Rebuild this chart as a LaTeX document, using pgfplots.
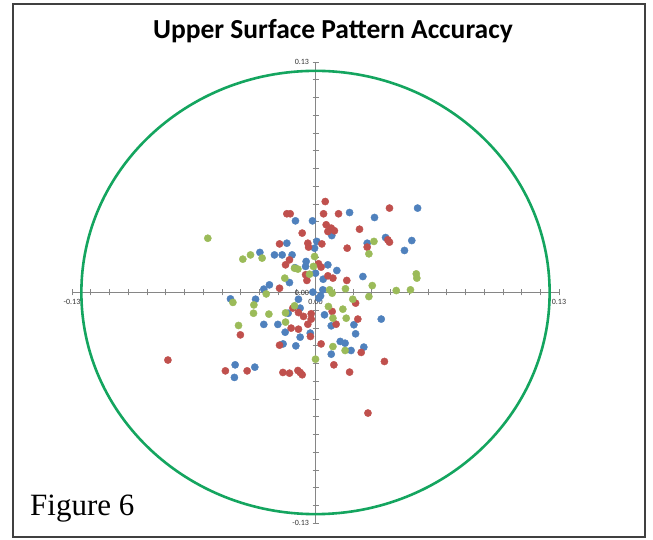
\documentclass[border=0pt]{standalone}
\usepackage{pgfplots}
\pgfplotsset{compat=1.18}
\usepackage{fontspec}
\setmainfont{Carlito}
\newfontfamily\figfont{Liberation Serif}
\definecolor{sblue}{HTML}{4F81BD}
\definecolor{sred}{HTML}{C0504D}
\definecolor{sgreen}{HTML}{9BBB59}
\definecolor{ringgreen}{RGB}{20,165,95}
\definecolor{axgray}{RGB}{134,134,134}
\begin{document}
\begin{tikzpicture}
\useasboundingbox (0,0) rectangle (653pt,540pt);
\fill[white] (0,0) rectangle (653pt,540pt);
\draw[black!75, line width=1.5pt] (13pt,3pt) rectangle (645pt,536pt);
\node[anchor=base, font=\bfseries\fontsize{27.5}{32}\selectfont] at (333pt,501pt) {Upper Surface Pattern Accuracy};
\node[anchor=base west, inner sep=0pt, font=\figfont\fontsize{31}{36}\selectfont] at (30pt,24pt) {Figure 6};
\begin{axis}[
  at={(72pt,17pt)}, anchor=south west,
  scale only axis, width=487pt, height=461pt,
  xmin=-0.13, xmax=0.13, ymin=-0.13, ymax=0.13,
  axis lines=middle, axis line style={-, axgray, line width=0.8pt},
  hide obscured x ticks=false, hide obscured y ticks=false,
  xtick={-0.13,0,0.13}, ytick={-0.13,0,0.13},
  minor xtick={-0.12,-0.11,-0.1,-0.09,-0.08,-0.07,-0.06,-0.05,-0.04,-0.03,-0.02,-0.01,0.01,0.02,0.03,0.04,0.05,0.06,0.07,0.08,0.09,0.1,0.11,0.12},
  minor ytick={-0.12,-0.11,-0.1,-0.09,-0.08,-0.07,-0.06,-0.05,-0.04,-0.03,-0.02,-0.01,0.01,0.02,0.03,0.04,0.05,0.06,0.07,0.08,0.09,0.1,0.11,0.12},
  tick align=center, major tick length=6pt, minor tick length=6pt,
  tick style={axgray, line width=0.6pt},
  ticklabel style={font=\fontsize{8}{9}\selectfont, text=black!80},
  /pgf/number format/assume math mode=true,
  /pgf/number format/.cd, fixed, fixed zerofill, precision=2, /pgfplots/.cd,
  clip=false,
]
\draw[ringgreen, line width=2.6pt] (axis cs:0,0) ellipse [x radius=0.125, y radius=0.125];
% blue series
\addplot[only marks, mark=*, mark size=3.6pt, color=sblue] coordinates {
(0.0545,0.0476) (0.0182,0.0451) (0.0315,0.0423) (-0.0107,0.0404) (-0.0016,0.0404)
(0.0087,0.0321) (0.0374,0.0310) (0.0514,0.0293) (0.0007,0.0288) (-0.0153,0.0278)
(-0.0005,0.0250) (0.0276,0.0278) (0.0475,0.0237) (-0.0297,0.0226) (-0.0219,0.0212)
(-0.0178,0.0212) (-0.0125,0.0212) (-0.0050,0.0175) (-0.0053,0.0147) (0.0066,0.0156)
(0.0114,0.0124) (0.0000,0.0109) (0.0041,0.0075) (0.0253,0.0090) (-0.0139,0.0056)
(-0.0246,0.0043) (-0.0276,0.0019) (-0.0014,0.0002) (0.0039,0.0015) (0.0027,-0.0019)
(-0.0454,-0.0036) (-0.0320,-0.0038) (-0.0091,-0.0038) (0.0018,-0.0032) (-0.0082,-0.0088)
(0.0048,-0.0126) (0.0351,-0.0150) (-0.0146,-0.0117) (-0.0276,-0.0180) (-0.0201,-0.0180)
(0.0084,-0.0188) (0.0205,-0.0182) (-0.0162,-0.0224) (-0.0028,-0.0229) (0.0214,-0.0233)
(-0.0082,-0.0252) (0.0132,-0.0276) (0.0158,-0.0286) (-0.0173,-0.0290) (-0.0105,-0.0301)
(0.0258,-0.0308) (0.0190,-0.0327) (0.0084,-0.0348) (-0.0429,-0.0408) (-0.0324,-0.0421)
(-0.0433,-0.0479) (-0.0110,0.0140)
};
% red series
\addplot[only marks, mark=*, mark size=3.6pt, color=sred] coordinates {
(0.0052,0.0513) (0.0395,0.0476) (-0.0153,0.0444) (-0.0135,0.0444) (0.0043,0.0444)
(0.0123,0.0444) (0.0057,0.0382) (0.0084,0.0363) (0.0066,0.0344) (0.0101,0.0348)
(-0.0071,0.0335) (0.0235,0.0357) (0.0386,0.0297) (0.0395,0.0284) (-0.0192,0.0274)
(-0.0041,0.0278) (-0.0037,0.0256) (0.0034,0.0274) (0.0169,0.0250) (0.0276,0.0256)
(-0.0139,0.0184) (-0.0160,0.0156) (0.0016,0.0162) (0.0030,0.0143) (-0.0053,0.0100)
(0.0066,0.0094) (0.0093,0.0081) (-0.0046,0.0068) (0.0167,0.0068) (-0.0192,0.0024)
(0.0214,-0.0060) (-0.0121,-0.0088) (-0.0091,-0.0113) (-0.0023,-0.0120) (0.0089,-0.0107)
(-0.0064,-0.0135) (-0.0023,-0.0150) (-0.0041,-0.0179) (0.0226,-0.0150) (0.0110,-0.0179)
(-0.0130,-0.0201) (-0.0091,-0.0207) (-0.0401,-0.0239) (-0.0027,-0.0248) (-0.0192,-0.0297)
(0.0030,-0.0290) (0.0244,-0.0338) (0.0368,-0.0389) (0.0098,-0.0408) (-0.0481,-0.0442)
(-0.0365,-0.0442) (-0.0174,-0.0451) (-0.0139,-0.0455) (-0.0094,-0.0440) (-0.0082,-0.0451)
(-0.0071,-0.0464) (0.0182,-0.0449) (-0.0788,-0.0381) (0.0280,-0.0680)
};
% green series
\addplot[only marks, mark=*, mark size=3.6pt, color=sgreen] coordinates {
(-0.0575,0.0306) (0.0312,0.0288) (0.0285,0.0218) (-0.0347,0.0212) (-0.0388,0.0188)
(-0.0285,0.0194) (-0.0005,0.0203) (-0.0112,0.0137) (-0.0094,0.0132) (-0.0011,0.0147)
(-0.0032,0.0103) (0.0538,0.0105) (0.0541,0.0081) (-0.0164,0.0081) (0.0303,0.0039)
(0.0160,0.0021) (-0.0263,-0.0008) (0.0075,0.0015) (0.0089,-0.0004) (0.0431,0.0011)
(0.0507,0.0015) (-0.0441,-0.0056) (-0.0329,-0.0070) (0.0199,-0.0038) (0.0285,-0.0023)
(-0.0112,-0.0075) (0.0069,-0.0079) (0.0146,-0.0094) (0.0093,-0.0145) (-0.0331,-0.0117)
(-0.0249,-0.0122) (0.0164,-0.0145) (-0.0160,-0.0167) (-0.0411,-0.0186) (0.0093,-0.0305)
(0.0158,-0.0327) (0.0000,-0.0376) (-0.0160,-0.0115)
};
\end{axis}
\end{tikzpicture}
\end{document}
